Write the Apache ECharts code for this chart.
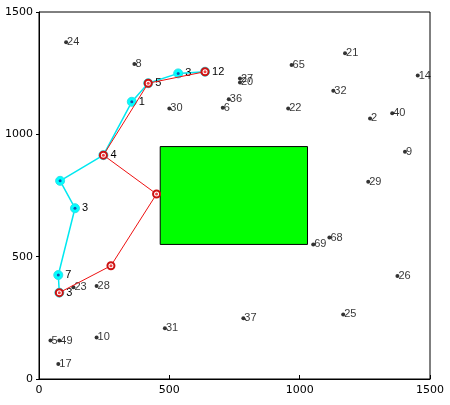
<!DOCTYPE html>
<html>
<head>
<meta charset="utf-8">
<script src="https://cdn.jsdelivr.net/npm/echarts@6/dist/echarts.min.js"></script>
<style>html,body{margin:0;padding:0;background:#fff}#c{width:450px;height:405px}</style>
</head>
<body>
<div id="c"></div>
<script>
// Labelled black nodes: [x, y, label]
const nodes = [
  [104, 1376, '24'], [366, 1287, '8'], [500, 1106, '30'], [705, 1109, '6'],
  [728, 1143, '36'], [1174, 1331, '21'], [969, 1283, '65'], [771, 1228, '27'],
  [771, 1212, '20'], [1129, 1178, '32'], [956, 1106, '22'], [1270, 1065, '2'],
  [1355, 1086, '40'], [1453, 1240, '14'], [1404, 929, '9'], [1263, 806, '29'],
  [132, 375, '23'], [221, 380, '28'], [483, 207, '31'], [44, 157, '5'],
  [78, 157, '49'], [221, 170, '10'], [74, 61, '17'], [1052, 550, '69'],
  [1114, 578, '68'], [1375, 421, '26'], [1167, 264, '25'], [784, 248, '37']
];
// Cyan route: [x, y, label]
const cyanPath = [
  [78, 353, '3'], [74, 425, '7'], [138, 698, '3'], [81, 810, ''],
  [247, 915, '4'], [356, 1133, '1'], [419, 1209, '5'], [534, 1249, '3'],
  [637, 1256, '12']
];
// Red route
const redPath = [
  [78, 353], [276, 463], [451, 756], [247, 915], [419, 1209], [637, 1256]
];
// Obstacle rectangle
const obstacleX = [465, 1030];
const obstacleY = [550, 950];
const xTicks = [0, 500, 1000, 1500];
const yTicks = [0, 500, 1000, 1500];

const chart = echarts.init(document.getElementById('c'), null, {renderer: 'canvas'});
const axisFont = {fontFamily: 'DejaVu Sans', fontSize: 11, color: '#000', formatter: v => String(v)};
chart.setOption({
  animation: false,
  backgroundColor: '#fff',
  grid: {left: 39, top: 12, right: 20, bottom: 26, show: true, borderColor: '#000', borderWidth: 1, backgroundColor: 'transparent'},
  xAxis: {
    type: 'value', min: xTicks[0], max: xTicks[xTicks.length - 1], interval: 500,
    axisLine: {show: true, lineStyle: {color: '#000', width: 1}},
    axisTick: {show: true, inside: true, length: 4, lineStyle: {color: '#000'}},
    splitLine: {show: false},
    axisLabel: Object.assign({margin: 6}, axisFont)
  },
  yAxis: {
    type: 'value', min: yTicks[0], max: yTicks[yTicks.length - 1], interval: 500,
    axisLine: {show: true, lineStyle: {color: '#000', width: 1}},
    axisTick: {show: true, inside: false, length: 3, lineStyle: {color: '#000'}},
    splitLine: {show: false},
    axisLabel: Object.assign({margin: 6}, axisFont)
  },
  series: [
    {
      type: 'scatter', symbolSize: 0, data: [],
      silent: true,
      markArea: {
        silent: true,
        itemStyle: {color: '#00ff00', borderColor: '#000', borderWidth: 1},
        data: [[{coord: [obstacleX[0], obstacleY[1]]}, {coord: [obstacleX[1], obstacleY[0]]}]]
      },
      z: 1
    },
    {
      type: 'scatter', symbol: 'circle', symbolSize: 4,
      itemStyle: {color: '#000'},
      data: nodes.map(n => ({value: [n[0], n[1]], name: n[2]})),
      label: {show: true, position: 'right', distance: -1, formatter: p => p.name,
        fontFamily: 'Liberation Sans', fontSize: 11, color: '#000'},
      z: 3
    },
    {
      type: 'line', symbol: 'circle', symbolSize: 9,
      data: cyanPath.map(p => ({value: [p[0], p[1]], name: p[2]})),
      lineStyle: {color: '#00e8f0', width: 1.5},
      itemStyle: {color: '#00ffff', borderColor: '#30e0e8', borderWidth: 1},
      label: {show: true, position: 'right', distance: 2, formatter: p => p.name,
        fontFamily: 'Liberation Sans', fontSize: 11, color: '#000'},
      z: 4
    },
    {
      type: 'scatter', symbol: 'circle', symbolSize: 3,
      data: cyanPath.map(p => [p[0], p[1]]),
      itemStyle: {color: '#1a2a9a'},
      z: 5
    },
    {
      type: 'line', symbol: 'emptyCircle', symbolSize: 7,
      data: redPath,
      lineStyle: {color: '#ee1111', width: 1},
      itemStyle: {color: '#cc1111', borderColor: '#b01515', borderWidth: 1.5},
      z: 6
    },
    {
      type: 'scatter', symbol: 'circle', symbolSize: 3,
      data: redPath,
      itemStyle: {color: '#ee1111'},
      z: 7
    }
  ]
});
</script>
</body>
</html>
